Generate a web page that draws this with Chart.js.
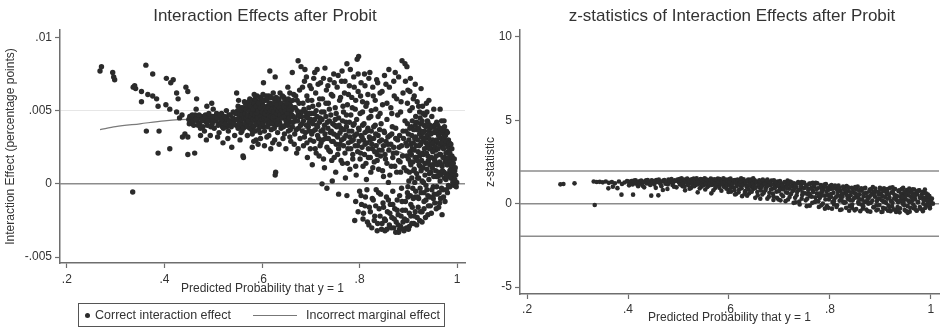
<!DOCTYPE html>
<html>
<head>
<meta charset="utf-8">
<script src="https://cdn.jsdelivr.net/npm/chart.js@4.4.1/dist/chart.umd.min.js"></script>
<style>
  body { margin: 0; background: #fff; width: 943px; height: 330px; position: relative; overflow: hidden;
         font-family: "Liberation Sans", Arial, sans-serif; color: #333; }
  #left { position: absolute; left: 0; top: 0; }
  #right { position: absolute; left: 470px; top: 0; }
  .legend { position: absolute; left: 78px; top: 303px; width: 367px; height: 24px; box-sizing: border-box;
            border: 1.5px solid #555; font-size: 12.5px; }
  .legend .dot { position: absolute; left: 6px; top: 9px; width: 5px; height: 5px; border-radius: 50%; background: #2b2b2b; }
  .legend .t1 { position: absolute; left: 16px; top: 4px; }
  .legend .ln { position: absolute; left: 174px; top: 11px; width: 44px; border-top: 1.2px solid #777; }
  .legend .t2 { position: absolute; left: 227px; top: 4px; }
</style>
</head>
<body>
<canvas id="left" width="470" height="330"></canvas>
<canvas id="right" width="473" height="330"></canvas>
<div class="legend">
  <span class="dot"></span><span class="t1">Correct interaction effect</span>
  <span class="ln"></span><span class="t2">Incorrect marginal effect</span>
</div>
<script>
const xTicks = [0.2, 0.4, 0.6, 0.8, 1];
const leftYTicks = [-0.005, 0, 0.005, 0.01];
const rightYTicks = [-5, 0, 5, 10];
const zRefLines = [-1.96, 0, 1.96];

// correct interaction effect (predicted prob, effect)
const correctEffect = [
  [.268,.0077],[.271,.0080],[.294,.0076],[.298,.0071],[.296,.0073],[.336,.0066],[.341,.0065],[.339,.0067],[.353,.0063],[.362,.0081],
  [.366,.0061],[.376,.0075],[.376,.0060],[.384,.0058],[.353,.0056],[.387,.0053],[.403,.0054],[.404,.0072],[.418,.0071],[.413,.0069],
  [.411,.0051],[.425,.0062],[.425,.0049],[.428,.0058],[.363,.0036],[.389,.0036],[.387,.0021],[.411,.0024],[.335,-.00055],[.437,.0032],
  [.442,.0034],[.431,.0045],[.436,.0047],
  [.444,.0066],[.448,.0063],[.448,.0032],[.448,.0020],[.450,.0044],[.452,.0046],[.455,.0042],[.458,.0045],[.460,.0040],[.462,.0021],
  [.463,.0047],[.465,.0051],[.466,.0058],[.467,.0043],[.470,.0045],[.472,.0041],[.474,.0038],[.476,.0046],[.478,.0043],[.480,.0044],
  [.482,.0036],[.484,.0047],[.486,.0042],[.487,.0053],[.488,.0040],[.490,.0045],[.492,.0043],[.494,.0033],[.496,.0046],[.497,.0055],
  [.498,.0041],[.500,.0051],[.500,.0044],
  [.451,.0041],[.457,.0047],[.459,.0043],[.464,.0044],[.469,.0040],[.471,.0047],[.477,.0044],[.479,.0039],[.483,.0045],[.489,.0043],
  [.491,.0048],[.495,.0039],[.499,.0046],[.503,.0043],[.507,.0048],[.511,.0045],[.513,.0041],[.517,.0048],[.519,.0039],[.522,.0043],
  [.526,.0045],[.528,.0039],[.532,.0047],[.534,.0040],[.539,.0042],[.541,.0049],[.545,.0044],[.547,.0040],[.550,.0050],[.554,.0045],
  [.557,.0039],[.474,.0033],[.509,.0032],[.486,.0030],[.530,.0031],
  [.502,.0038],[.504,.0046],[.506,.0043],[.508,.0045],[.510,.0040],[.512,.0035],[.514,.0047],[.516,.0042],[.518,.0044],[.520,.0028],
  [.521,.0038],[.523,.0046],[.525,.0041],[.527,.0050],[.529,.0044],[.531,.0036],[.533,.0043],[.535,.0047],[.537,.0039],[.538,.0025],
  [.540,.0045],[.542,.0041],[.544,.0033],[.546,.0048],[.548,.0062],[.549,.0044],[.551,.0038],[.552,.0057],[.553,.0046],[.555,.0030],
  [.556,.0042],[.558,.0052],[.559,.0036],[.561,.0019],[.562,.0018],
  [.563,.0049],[.565,.0044],[.566,.0055],[.568,.0040],[.569,.0047],[.570,.0033],[.572,.0051],[.573,.0045],[.575,.0058],[.576,.0042],
  [.578,.0049],[.579,.0037],[.580,.0025],[.581,.0054],[.583,.0046],[.584,.0061],[.586,.0043],[.587,.0050],[.588,.0030],[.590,.0047],
  [.591,.0056],[.592,.0040],[.594,.0052],[.595,.0045],[.596,.0035],[.598,.0049],[.599,.0058],[.600,.0043],[.601,.0054],[.603,.0069],
  [.603,.0047],[.604,.0039],[.606,.0051],[.607,.0044],[.608,.0057],[.609,.0048],[.610,.0032],[.611,.0053],[.612,.0046],[.613,.0041],
  [.614,.0060],[.615,.0049],[.616,.0077],[.617,.0044],[.618,.0055],[.619,.0037],[.620,.0050],[.621,.0047],[.622,.0028],[.623,.0053],
  [.624,.0043],[.625,.0058],[.626,.0049],[.627,.0073],[.627,.0006],[.628,.0008],[.628,.0040],[.630,.0052],[.631,.0046],[.632,.0035],
  [.633,.0056],[.634,.0049],[.636,.0042],[.637,.0062],[.638,.0051],[.639,.0038],[.640,.0047],[.642,.0054],[.643,.0031],[.644,.0045],
  [.645,.0059],[.647,.0050],[.648,.0040],[.649,.0024],[.650,.0053],[.651,.0045],[.653,.0066],[.654,.0036],[.655,.0048],[.657,.0042],
  [.658,.0056],[.659,.0029],[.660,.0050],[.662,.0076],[.662,.0039],[.664,.0046],[.665,.0061],[.667,.0034],[.668,.0052],[.670,.0043],
  [.671,.0021],[.672,.0057],[.674,.0084],[.674,.0047],[.675,.0038],[.677,.0064],[.678,.0031],[.680,.0080],[.680,.0049],
  [.551,.0053],[.553,.0041],[.555,.0048],[.557,.0035],[.558,.0044],[.559,.0050],[.560,.0040],[.560,.0047],
  [.561,.0052],[.562,.0038],[.563,.0045],[.564,.0056],[.565,.0048],[.566,.0041],[.567,.0051],[.568,.0045],[.569,.0054],[.570,.0039],
  [.571,.0047],[.572,.0043],[.573,.0056],[.574,.0050],[.575,.0038],[.576,.0053],[.577,.0046],[.578,.0041],[.579,.0057],[.580,.0048],
  [.580,.0034],[.581,.0044],[.582,.0051],[.583,.0039],[.584,.0055],[.585,.0047],[.586,.0058],[.586,.0036],[.587,.0044],[.588,.0053],
  [.589,.0048],[.589,.0041],[.590,.0060],[.591,.0045],[.592,.0050],[.593,.0037],[.593,.0055],[.594,.0048],[.595,.0042],[.596,.0059],
  [.597,.0046],[.597,.0052],[.598,.0039],[.599,.0044],[.600,.0056],[.601,.0049],[.602,.0041],[.602,.0061],[.603,.0053],[.604,.0045],
  [.605,.0057],[.605,.0036],[.606,.0048],[.607,.0052],[.608,.0043],[.609,.0060],[.610,.0050],[.611,.0044],[.611,.0058],[.612,.0039],
  [.613,.0052],[.614,.0047],[.615,.0055],[.616,.0042],[.617,.0050],[.618,.0046],[.619,.0059],[.620,.0041],[.620,.0054],[.621,.0051],
  [.622,.0045],[.623,.0062],[.624,.0049],[.625,.0038],[.626,.0055],[.627,.0046],[.628,.0052],[.629,.0043],[.629,.0059],[.630,.0048],
  [.631,.0054],[.632,.0041],[.633,.0050],[.634,.0044],[.635,.0058],[.636,.0052],[.637,.0047],[.638,.0040],[.639,.0055],[.640,.0050],
  [.641,.0045],[.642,.0060],[.643,.0049],[.644,.0039],[.645,.0053],[.646,.0046],[.647,.0057],[.648,.0050],[.649,.0043],[.651,.0055],
  [.652,.0048],[.653,.0040],[.654,.0058],[.655,.0051],[.656,.0045],[.657,.0062],[.658,.0037],[.659,.0053],[.661,.0047],[.663,.0057],
  [.664,.0042],[.666,.0052],[.667,.0045],[.669,.0060],[.670,.0037],[.672,.0050],[.673,.0043],[.676,.0055],[.677,.0046],[.679,.0040],
  [.583,.0029],[.597,.0031],[.605,.0026],[.614,.0033],[.626,.0030],[.635,.0027],[.646,.0034],[.657,.0032],[.666,.0027],[.674,.0024],
  [.592,.0027],[.618,.0024],
  [.682,.0041],[.684,.0055],[.685,.0026],[.687,.0070],[.688,.0078],[.689,.0035],[.690,.0046],[.692,.0060],[.693,.0018],[.695,.0039],
  [.696,.0052],[.698,.0067],[.699,.0030],[.700,.0044],[.702,.0057],[.703,.0013],[.705,.0036],[.706,.0072],[.707,.0048],[.709,.0024],
  [.710,.0062],[.712,.0040],[.713,.0078],[.714,.0033],[.716,.0054],[.717,.0019],[.719,.0045],[.720,.0069],[.721,.0028],[.723,.0000],
  [.724,.0058],[.725,.0037],[.727,.0049],[.728,.0011],[.729,.0079],[.730,.0031],[.732,.0064],[.733,-.0003],[.734,.0042],[.736,.0055],
  [.737,.0023],[.739,.0071],[.740,.0035],[.741,.0047],[.743,.0016],[.744,.0002],[.745,.0060],[.746,.0029],[.747,.0075],[.749,.0040],
  [.750,.0052],[.751,.0008],[.753,.0033],[.754,.0066],[.755,.0020],[.757,-.0007],[.757,.0045],[.759,.0057],[.760,.0027],[.762,.0038],
  [.763,.0070],[.764,.0077],[.765,.0014],[.767,.0049],[.768,.0031],[.769,.0062],[.771,.0004],[.772,.0042],[.774,-.0008],[.774,.0082],
  [.775,.0054],[.776,.0024],[.778,.0036],[.779,.0067],[.780,.0010],[.782,.0047],[.783,.0029],[.784,.0059],[.786,.0017],[.787,.0040],
  [.788,.0073],[.790,-.0025],[.790,.0033],[.791,.0051],[.793,.0006],[.794,.0044],[.795,.0085],[.796,.0026],[.797,.0063],[.798,.0087],
  [.799,.0037],
  [.681,.0046],[.683,.0036],[.685,.0043],[.687,.0032],[.689,.0049],[.691,.0040],[.692,.0028],[.694,.0045],[.696,.0036],[.697,.0042],
  [.699,.0024],[.701,.0048],[.702,.0034],[.704,.0041],[.706,.0029],[.708,.0044],[.709,.0037],[.711,.0021],[.713,.0046],[.714,.0039],
  [.716,.0031],[.718,.0042],[.719,.0026],[.721,.0036],[.723,.0044],[.724,.0030],[.726,.0017],[.728,.0040],[.729,.0034],[.731,.0046],
  [.733,.0025],[.735,.0038],[.736,.0031],[.738,.0043],[.740,.0022],[.742,.0036],[.743,.0029],[.745,.0041],[.747,.0034],[.748,.0018],
  [.750,.0044],[.752,.0027],[.753,.0039],[.755,.0032],[.757,.0024],[.758,.0040],[.760,.0035],[.762,.0016],[.763,.0030],[.765,.0043],
  [.767,.0026],[.768,.0037],[.770,.0021],[.772,.0033],[.773,.0039],[.775,.0014],[.777,.0028],[.779,.0042],[.780,.0032],[.782,.0024],
  [.784,.0036],[.786,.0020],[.787,.0030],[.789,.0041],[.791,.0026],[.792,.0012],[.794,.0034],[.796,.0022],[.798,.0038],[.799,.0029],
  [.801,.0017],[.803,.0033],[.805,.0025],[.806,.0040],[.808,.0030],[.810,.0020],[.811,.0035],[.813,.0014],[.815,.0028],[.817,.0038],
  [.818,.0024],[.820,.0032],[.822,.0018],[.824,.0036],[.825,.0027],[.827,.0011],[.829,.0031],[.831,.0022],[.832,.0040],[.834,.0026],
  [.836,.0016],[.838,.0033],[.840,.0023],[.841,.0037],[.843,.0019],[.845,.0030],[.847,.0009],[.849,.0026],[.851,.0035],[.852,.0020],
  [.854,.0029],[.856,.0014],[.858,.0032],[.860,.0023],[.862,.0006],[.864,.0027],[.866,.0034],[.868,.0018],[.870,.0025],[.872,.0012],
  [.874,.0038],[.876,.0021],[.878,.0030],[.880,.0016],[.882,.0033],[.884,.0008],[.886,.0026],[.888,.0019],[.890,.0031],
  [.683,.0066],[.686,.0051],[.691,.0073],[.694,.0057],[.697,.0048],[.701,.0065],[.704,.0053],[.708,.0076],[.711,.0050],[.715,.0068],
  [.718,.0058],[.722,.0049],[.726,.0072],[.731,.0055],[.735,.0067],[.738,.0051],[.742,.0061],[.748,.0069],[.752,.0048],[.756,.0074],
  [.761,.0059],[.766,.0053],[.770,.0070],[.773,.0047],[.777,.0061],[.781,.0078],[.785,.0052],[.789,.0066],[.792,.0057],[.797,.0075],
  [.802,.0060],[.806,.0049],[.811,.0067],[.815,.0055],[.819,.0072],[.823,.0046],[.828,.0060],[.833,.0051],[.837,.0069],[.842,.0048],
  [.846,.0063],[.851,.0074],[.856,.0055],[.861,.0066],[.866,.0048],[.870,.0070],[.876,.0058],[.880,.0073],[.884,.0049],[.889,.0062],
  [.894,.0070],[.898,.0055],[.903,.0063],[.908,.0052],[.912,.0060],[.918,.0056],[.923,.0049],[.929,.0053],[.934,.0047],[.938,.0049],
  [.800,-.0005],[.801,.0048],[.802,.0021],[.803,.0069],[.804,-.0014],[.805,.0032],[.806,.0056],[.807,.0012],[.808,-.0020],[.809,.0041],
  [.810,.0075],[.811,.0027],[.812,-.0009],[.813,.0053],[.814,.0003],[.815,.0036],[.816,-.0026],[.817,.0061],[.818,.0018],[.819,.0045],
  [.820,-.0016],[.821,.0076],[.822,.0030],[.823,.0008],[.824,.0050],[.825,-.0030],[.826,.0024],[.827,.0066],[.828,-.0011],[.829,.0039],
  [.830,.0015],[.831,-.0022],[.832,.0057],[.833,.0034],[.834,-.0004],[.835,.0071],[.836,.0020],[.837,-.0027],[.838,.0046],[.839,.0010],
  [.840,-.0017],[.841,.0029],[.842,.0062],[.843,-.0007],[.844,.0041],[.845,-.0031],[.846,.0023],[.847,.0054],[.848,-.0013],[.849,.0005],
  [.850,.0036],[.851,-.0024],[.852,-.0032],[.853,.0017],[.854,.0068],[.855,-.0009],[.856,.0044],[.857,-.0019],[.858,.0027],[.859,.0001],
  [.860,.0078],[.861,-.0028],[.862,.0033],[.863,-.0014],[.864,.0052],[.865,.0012],[.866,-.0023],[.867,.0039],[.868,-.0005],[.869,.0021],
  [.870,-.0030],[.871,.0060],[.872,-.0017],[.873,.0076],[.874,.0031],[.875,-.0026],[.876,.0008],[.877,-.0011],[.878,.0047],[.879,-.0021],
  [.880,-.0033],[.881,.0025],[.882,-.0008],[.883,.0015],[.884,-.0029],[.885,.0056],[.886,-.0003],[.887,.0084],[.888,-.0018],[.889,.0036],
  [.792,-.0012],[.797,-.0019],[.803,-.0008],[.807,-.0024],[.811,-.0015],[.815,-.0004],[.819,-.0028],[.822,-.0019],[.826,-.0010],[.830,-.0025],
  [.833,-.0015],[.836,-.0032],[.839,-.0006],[.842,-.0022],[.846,-.0027],[.849,-.0016],[.853,-.0025],[.856,-.0031],[.859,-.0011],[.862,-.0020],
  [.865,-.0030],[.868,-.0014],[.871,-.0024],[.874,-.0033],[.877,-.0018],[.879,-.0028],[.882,-.0031],[.885,-.0022],[.887,-.0012],[.889,-.0026],
  [.891,-.0032],[.894,-.0018],[.897,-.0025],[.899,-.0009],[.902,-.0029],[.905,-.0022],[.908,-.0016],[.911,-.0027],[.914,-.0019],[.918,-.0023],
  [.921,-.0010],[.925,-.0019],[.928,-.0026],[.932,-.0017],[.936,-.0011],[.940,-.0021],[.945,-.0015],[.951,-.0010],[.957,-.0017],[.964,-.0013],
  [.890,-.0031],[.891,.0011],[.892,-.0024],[.893,.0082],[.893,.0043],[.894,-.0012],[.895,.0028],[.896,-.0030],[.897,.0080],[.897,.0019],
  [.898,-.0006],[.899,.0064],[.900,-.0031],[.900,.0034],[.901,.0002],[.902,-.0020],[.903,.0050],[.904,.0072],[.904,.0015],[.905,-.0014],
  [.906,.0039],[.907,-.0027],[.908,.0024],[.909,-.0003],[.910,.0058],[.911,.0009],[.912,-.0022],[.913,.0031],[.914,.0068],[.914,-.0009],
  [.915,.0046],[.916,.0018],[.917,-.0028],[.918,.0037],[.919,.0004],[.920,-.0016],[.921,.0053],[.922,.0026],[.923,-.0025],[.924,.0012],
  [.925,.0041],[.926,.0065],[.926,-.0006],[.927,.0032],[.928,-.0019],[.929,.0021],[.930,.0048],[.931,.0001],[.932,-.0012],[.933,.0036],
  [.934,.0014],[.935,-.0023],[.936,.0028],[.937,.0055],[.938,-.0004],[.939,.0043],[.940,.0019],[.941,-.0015],[.942,.0057],[.942,.0031],
  [.943,.0007],[.944,-.0009],[.945,.0038],[.946,.0024],[.947,-.0020],[.948,.0046],[.949,.0011],[.950,.0030],[.951,-.0002],[.952,.0051],
  [.953,.0017],[.954,-.0013],[.955,.0035],[.956,.0023],[.957,.0005],[.958,.0042],[.959,-.0007],[.960,.0028],[.961,.0014],[.962,-.0016],
  [.963,.0036],[.964,.0020],[.965,.0051],[.965,.0002],[.966,-.0010],[.967,.0031],[.968,.0043],[.969,-.0021],[.969,.0012],[.970,.0025],
  [.971,-.0004],[.972,.0034],[.973,.0043],[.973,.0008],[.974,.0018],[.975,-.0012],[.976,.0027],[.977,.0003],[.978,.0036],[.979,.0013],
  [.980,-.0006],[.981,.0022],[.982,.0030],[.983,.0007],[.984,.0016],[.985,-.0002],[.986,.0024],[.987,.0010],[.988,.0004],[.989,.0019],
  [.990,.0012],[.992,.0006],[.993,-.0001],[.995,.0009],[.996,.0000],[.999,.0001],
  [.895,.0036],[.896,.0009],[.897,.0026],[.898,.0041],[.899,-.0002],[.900,.0017],[.901,.0030],[.902,.0008],[.903,.0022],[.903,.0038],
  [.904,-.0008],[.905,.0013],[.905,.0027],[.906,.0020],[.907,.0033],[.907,.0004],[.908,.0043],[.909,.0015],[.910,.0028],[.910,-.0010],
  [.911,.0037],[.912,.0010],[.912,.0023],[.913,.0001],[.914,.0040],[.914,.0018],[.915,.0032],[.915,-.0005],[.916,.0026],[.917,.0007],
  [.917,.0042],[.918,.0016],[.919,.0030],[.919,-.0009],[.920,.0022],[.921,.0038],[.921,.0004],[.922,.0013],[.923,.0034],[.923,.0019],
  [.924,-.0003],[.924,.0045],[.925,.0027],[.926,.0009],[.926,.0036],[.927,.0016],[.928,.0043],[.928,.0002],[.929,.0029],[.930,.0011],
  [.930,.0035],[.931,.0020],[.932,-.0006],[.932,.0040],[.933,.0024],[.934,.0006],[.934,.0031],[.935,.0014],[.936,.0039],[.936,-.0001],
  [.937,.0021],[.938,.0033],[.938,.0010],[.939,.0026],[.940,.0042],[.940,-.0008],[.941,.0016],[.942,.0036],[.942,.0003],[.943,.0024],
  [.944,.0013],[.944,.0040],[.945,.0028],[.946,.0008],[.946,.0034],[.947,.0018],[.948,-.0004],[.948,.0027],[.949,.0039],[.950,.0013],
  [.950,.0022],[.951,.0035],[.952,.0005],[.952,.0028],[.953,-.0007],[.954,.0040],[.954,.0016],[.955,.0025],[.956,.0009],[.956,.0037],
  [.957,.0019],[.958,-.0002],[.958,.0030],[.959,.0013],[.960,.0040],[.960,.0005],[.961,.0024],[.962,.0033],[.962,.0008],[.963,-.0006],
  [.964,.0027],[.964,.0015],[.965,.0038],[.966,.0020],[.966,.0006],[.967,.0035],[.968,.0013],[.968,-.0003],[.969,.0028],[.970,.0037],
  [.970,.0009],[.971,.0018],[.972,.0024],[.972,-.0009],[.973,.0031],[.974,.0004],[.974,.0039],[.975,.0015],[.976,.0033],[.976,.0007],
  [.977,.0021],[.978,-.0004],[.978,.0029],[.979,.0016],[.980,.0035],[.980,.0005],[.981,.0013],[.982,.0025],[.982,-.0001],[.983,.0018],
  [.984,.0028],[.985,.0009],[.985,.0021],[.986,.0015],[.987,.0027],[.987,.0004],[.988,.0013],[.989,.0024],[.990,.0007],[.990,.0018],
  [.991,.0001],[.992,.0014],[.993,.0009],[.994,.0017],[.995,.0003],[.996,.0011],[.997,.0006],[.998,-.0002]
];

// incorrect marginal effect curve
const marginalX = [.268, .30, .35, .40, .45, .50, .55, .60, .65, .70, .75, .80, .85, .88, .92, .95, .98, .995];
const marginalY = [.0037, .0039, .0041, .0043, .0044, .0044, .0044, .0042, .0040, .0037, .0034, .0030, .0026, .0022, .0016, .0011, .0005, .0002];

// z-statistics (predicted prob, z)
const zStat = [
  [.266,1.16],[.272,1.18],[.294,1.22],[.334,-.08],[.332,1.33],[.338,1.30],[.344,1.31],[.350,1.28],[.356,1.33],[.361,0.92],
  [.362,1.25],[.368,1.30],[.370,1.02],[.374,1.22],[.379,0.93],[.382,1.33],[.387,0.54],[.388,1.18],[.393,1.27],[.398,1.35],
  [.402,1.10],[.405,1.30],[.410,0.54],[.412,1.38],[.416,1.20],[.420,1.05],[.424,1.34],[.428,1.28],[.432,0.98],[.436,1.40],
  [.440,1.22],[.446,0.48],[.448,1.35],[.452,1.15],[.456,1.42],[.460,0.50],[.462,1.28],[.466,1.05],[.470,1.38],[.474,1.20],
  [.478,0.88],[.480,1.45],[.484,1.30],[.488,1.12],[.492,1.40],[.496,0.98],[.500,1.33],
  [.401,1.32],[.404,1.24],[.407,1.36],[.409,1.15],[.413,1.30],[.415,1.40],[.418,1.27],[.421,1.33],[.423,1.19],[.426,1.38],
  [.429,1.08],[.431,1.30],[.434,1.35],[.437,1.22],[.439,1.42],[.442,1.30],[.444,1.12],[.447,1.40],[.449,1.26],[.453,1.35],
  [.455,0.95],[.458,1.30],[.461,1.44],[.464,1.20],[.467,1.33],[.469,0.82],[.472,1.42],[.476,1.28],[.479,1.15],[.482,1.38],
  [.486,1.47],[.489,1.25],[.491,1.02],[.494,1.36],[.498,1.45],
  [.502,1.47],[.505,1.22],[.508,1.05],[.510,1.38],[.513,0.80],[.515,1.30],[.518,1.48],[.520,1.15],[.523,1.40],[.525,0.95],
  [.528,1.27],[.530,1.50],[.533,1.10],[.535,1.35],[.538,0.68],[.540,1.20],[.543,1.45],[.545,1.02],[.548,1.32],[.550,1.48],
  [.553,0.85],[.555,1.25],[.558,1.40],[.560,1.08],[.563,1.30],[.565,0.62],[.568,1.45],[.570,1.18],[.573,0.95],[.575,1.36],
  [.578,1.50],[.580,1.12],[.583,1.28],[.585,0.78],[.588,1.42],[.590,1.05],[.593,1.33],[.595,0.90],[.598,1.20],[.600,1.46],
  [.501,1.28],[.503,1.15],[.504,1.40],[.506,1.52],[.507,1.32],[.509,1.20],[.511,1.45],[.512,1.02],[.514,1.36],[.516,1.25],
  [.517,1.50],[.519,1.12],[.521,1.38],[.522,0.90],[.524,1.30],[.526,1.46],[.527,1.18],[.529,1.35],[.531,1.05],[.532,1.42],
  [.534,1.25],[.536,1.52],[.537,1.15],[.539,1.38],[.541,1.30],[.542,0.92],[.544,1.48],[.546,1.22],[.547,1.40],[.549,1.10],
  [.551,1.35],[.552,1.52],[.554,1.18],[.556,1.45],[.557,1.00],[.559,1.30],[.561,1.42],[.562,1.20],[.564,1.50],[.566,1.12],
  [.567,1.35],[.569,0.80],[.571,1.28],[.572,1.46],[.574,1.05],[.576,1.40],[.577,1.22],[.579,1.33],[.581,0.95],[.582,1.48],
  [.584,1.15],[.586,1.38],[.587,1.25],[.589,1.52],[.591,1.00],[.592,1.30],[.594,1.45],[.596,1.10],[.597,1.36],[.599,0.70],
  [.602,1.10],[.604,0.72],[.606,1.35],[.608,1.25],[.610,0.95],[.612,1.42],[.614,0.58],[.616,1.15],[.618,1.30],[.620,0.85],
  [.622,1.40],[.624,1.05],[.626,0.45],[.628,1.22],[.630,1.36],[.632,0.75],[.634,1.12],[.636,0.98],[.638,1.44],[.640,0.62],
  [.642,1.28],[.644,1.02],[.646,1.38],[.648,0.88],[.650,1.18],[.652,0.35],[.654,1.32],[.656,0.70],[.658,1.08],[.660,1.40],
  [.662,0.92],[.664,1.24],[.666,0.55],[.668,1.15],[.670,1.35],[.672,0.80],[.674,1.00],[.676,0.30],[.678,1.28],[.680,0.65],
  [.682,1.12],[.684,1.38],[.686,0.90],[.688,0.45],[.690,1.20],[.692,1.05],[.694,0.72],[.696,1.32],[.698,0.25],[.700,0.98],
  [.601,1.30],[.603,1.50],[.605,0.98],[.607,1.18],[.609,1.40],[.611,0.80],[.613,1.28],[.615,1.05],[.617,1.45],[.619,0.68],
  [.621,1.20],[.623,1.35],[.625,0.92],[.627,1.12],[.629,1.46],[.631,0.60],[.633,1.25],[.635,1.02],[.637,1.38],[.639,0.85],
  [.641,1.15],[.643,1.45],[.645,0.72],[.647,1.22],[.649,1.05],[.651,1.40],[.653,0.95],[.655,1.28],[.657,0.50],[.659,1.15],
  [.661,1.35],[.663,0.80],[.665,1.02],[.667,1.44],[.669,0.65],[.671,1.20],[.673,0.92],[.675,1.38],[.677,1.08],[.679,0.42],
  [.681,1.30],[.683,0.85],[.685,1.15],[.687,0.60],[.689,1.40],[.691,0.95],[.693,1.25],[.695,0.35],[.697,1.10],[.699,0.75],
  [.701,1.35],[.703,0.88],[.705,1.18],[.707,0.45],[.709,1.02],[.711,1.28],[.713,0.68],[.715,1.12],[.717,0.25],[.719,0.90],
  [.721,1.32],[.723,0.58],[.725,1.05],[.727,0.80],[.729,1.22],[.731,0.35],[.733,0.98],[.735,0.70],[.737,1.30],[.739,0.12],
  [.741,0.85],[.743,1.15],[.745,0.52],[.747,0.95],[.749,1.25],[.601,0.85],[.612,0.55],[.624,1.52],[.636,0.48],[.648,1.52],
  [.662,0.30],[.676,1.45],[.688,0.22],[.702,0.20],[.716,1.38],[.732,0.08],[.744,1.30],
  [.702,1.25],[.704,0.55],[.706,1.10],[.708,0.85],[.710,1.30],[.712,0.15],[.714,0.95],[.716,0.65],[.718,1.18],[.720,0.40],
  [.722,1.02],[.724,1.28],[.726,0.75],[.728,0.05],[.730,0.90],[.732,1.15],[.734,0.50],[.736,1.22],[.738,0.82],[.740,-0.05],
  [.742,1.05],[.744,0.30],[.746,0.68],[.748,1.26],[.750,0.95],[.752,0.20],[.754,1.10],[.756,0.58],[.758,0.88],[.760,-0.12],
  [.762,1.20],[.764,0.42],[.766,0.78],[.768,1.02],[.770,0.10],[.772,1.25],[.774,0.62],[.776,0.92],[.778,-0.20],[.780,0.35],
  [.782,1.12],[.784,0.70],[.786,0.00],[.788,0.98],[.790,0.48],[.792,1.18],[.794,-0.15],[.796,0.80],[.798,0.25],[.800,1.05],
  [.751,0.62],[.753,1.05],[.755,0.30],[.757,0.82],[.759,1.20],[.761,0.45],[.763,0.95],[.765,0.05],[.767,0.70],[.769,1.12],
  [.771,0.38],[.773,0.88],[.775,1.22],[.777,0.15],[.779,0.60],[.781,1.00],[.783,-0.10],[.785,0.50],[.787,0.85],[.789,1.15],
  [.791,0.25],[.793,0.72],[.795,0.95],[.797,-0.25],[.799,0.40],[.801,0.88],[.803,1.12],[.805,0.10],[.807,0.65],[.809,0.30],
  [.811,0.98],[.813,-0.20],[.815,0.52],[.817,1.08],[.819,0.18],[.821,0.78],[.823,-0.35],[.825,0.42],[.827,0.90],[.829,0.62],
  [.831,0.08],[.833,1.05],[.835,0.30],[.837,0.75],[.839,-0.15],[.841,0.50],[.843,0.95],[.845,0.20],[.847,0.68],[.849,-0.40],
  [.851,0.38],[.853,0.85],[.855,1.02],[.857,0.00],[.859,0.55],[.861,0.25],[.863,0.78],[.865,-0.30],[.867,0.45],[.869,0.92],
  [.871,0.12],[.873,0.65],[.875,-0.45],[.877,0.35],[.879,0.85],[.881,0.05],[.883,0.58],[.885,1.00],[.887,-0.20],[.889,0.42],
  [.891,0.72],[.893,0.15],[.895,-0.35],[.897,0.55],[.899,0.95],[.754,-0.15],[.766,1.25],[.778,0.45],[.790,-0.30],[.802,0.40],
  [.814,0.85],[.826,0.12],[.838,0.30],[.850,0.60],[.862,-0.05],[.874,0.20],[.886,0.70],[.898,0.30],[.760,0.58],[.772,0.15],
  [.784,0.78],[.796,0.52],[.808,-0.05],[.820,0.45],[.832,0.65],[.844,-0.25],[.856,0.35],[.868,0.10],[.880,0.48],[.892,-0.10],
  [.802,0.58],[.804,-0.30],[.806,0.90],[.808,0.15],[.810,1.08],[.812,0.40],[.814,-0.10],[.816,0.72],[.818,0.95],[.820,-0.38],
  [.822,0.28],[.824,0.60],[.826,1.02],[.828,0.05],[.830,0.82],[.832,-0.25],[.834,0.48],[.836,0.98],[.838,-0.42],[.840,0.20],
  [.842,0.68],[.844,-0.05],[.846,0.88],[.848,0.35],[.850,1.00],[.852,-0.32],[.854,0.55],[.856,0.10],[.858,0.78],[.860,-0.45],
  [.862,0.92],[.864,0.25],[.866,-0.15],[.868,0.62],[.870,0.95],[.872,-0.35],[.874,0.40],[.876,0.00],[.878,0.75],[.880,-0.48],
  [.882,0.88],[.884,0.18],[.886,-0.22],[.888,0.52],[.890,0.90],[.892,-0.40],[.894,0.30],[.896,0.70],[.898,-0.08],[.900,0.85],
  [.902,-0.50],[.904,0.45],[.906,0.12],[.908,0.78],[.910,-0.30],[.912,0.58],[.914,0.88],[.916,-0.12],[.918,0.35],[.920,-0.45],
  [.922,0.68],[.924,0.05],[.926,0.85],[.928,-0.35],[.930,0.48],[.932,0.22],[.934,-0.20],[.936,0.75],[.938,-0.52],[.940,0.40],
  [.942,0.88],[.944,0.00],[.946,0.60],[.948,-0.38],[.950,0.28],[.952,0.82],[.954,-0.15],[.956,0.50],[.958,-0.48],[.960,0.70],
  [.962,0.15],[.964,0.86],[.966,-0.28],[.968,0.42],[.970,0.62],[.972,-0.42],[.974,0.08],[.976,0.78],[.978,-0.20],[.980,0.35],
  [.982,0.55],[.984,-0.35],[.986,0.20],[.988,0.65],[.990,-0.10],[.992,0.40],[.994,0.05],[.996,0.30],[.998,-0.18],[1.000,0.15],
  [.901,0.60],[.903,0.20],[.905,-0.25],[.907,0.92],[.909,0.40],[.911,0.05],[.913,0.72],[.915,-0.42],[.917,0.55],[.919,0.95],
  [.921,0.15],[.923,-0.15],[.925,0.65],[.927,0.30],[.929,0.88],[.931,-0.50],[.933,0.45],[.935,0.08],[.937,0.80],[.939,-0.28],
  [.941,0.60],[.943,0.25],[.945,0.95],[.947,-0.10],[.949,0.50],[.951,-0.45],[.953,0.70],[.955,0.18],[.957,0.90],[.959,-0.25],
  [.961,0.40],[.963,0.62],[.965,-0.05],[.967,0.85],[.969,0.25],[.971,-0.40],[.973,0.55],[.975,0.10],[.977,0.80],[.979,-0.30],
  [.981,0.45],[.983,0.70],[.985,0.00],[.987,0.35],[.989,-0.25],[.991,0.60],[.993,0.20],[.995,-0.12],[.997,0.45],[.999,0.05],
  [.904,-0.48],[.914,0.30],[.924,0.98],[.934,-0.32],[.944,0.40],[.954,-0.55],[.964,0.30],[.974,0.75],[.984,-0.45],[.994,0.55],
  [.908,0.12],[.918,-0.20],[.928,0.52],[.938,0.15],[.948,0.72],[.958,0.08],[.968,-0.18],[.978,0.35],[.988,0.85],[.998,-0.28],
  [.906,0.75],[.926,-0.35],[.946,0.10],[.966,0.50],[.986,0.18],[1.002,0.30],[1.004,0.00]
];

const FONT = '"Liberation Sans", Arial, sans-serif';
const TEXT = '#333';
const AXIS = '#6e6e6e';
const X_MIN = 0.186, X_MAX = 1.016;

function fmtTick(v) {
  if (v === 0) return '0';
  return String(v).replace('0.', '.');
}

const panelTitle = {
  id: 'panelTitle',
  afterDraw(chart, args, opts) {
    const ctx = chart.ctx;
    ctx.save();
    ctx.font = '17px ' + FONT;
    ctx.fillStyle = TEXT;
    ctx.textAlign = 'center';
    ctx.textBaseline = 'middle';
    ctx.fillText(opts.text, opts.x, opts.y);
    ctx.restore();
  }
};

function xScale(height, tickPad, titlePad) {
  return {
    type: 'linear', min: X_MIN, max: X_MAX,
    afterBuildTicks: (s) => { s.ticks = xTicks.map(v => ({ value: v })); },
    afterFit: (s) => { s.height = height; },
    border: { display: true, color: AXIS, width: 1.5 },
    grid: { drawOnChartArea: false, drawTicks: true, tickLength: 5, tickColor: AXIS, tickWidth: 1.2 },
    ticks: { color: TEXT, font: { family: FONT, size: 12 }, padding: tickPad, maxRotation: 0, callback: fmtTick },
    title: { display: true, text: 'Predicted Probability that y = 1', color: TEXT,
             font: { family: FONT, size: 12 }, padding: { top: 0, bottom: titlePad } }
  };
}

function yScale(min, max, ticks, title, width, titlePad, gridAt) {
  return {
    type: 'linear', min: min, max: max,
    afterBuildTicks: (s) => { s.ticks = ticks.map(v => ({ value: v })); },
    afterFit: (s) => { s.width = width; },
    border: { display: true, color: AXIS, width: 1.5 },
    grid: {
      drawOnChartArea: true, drawTicks: true, tickLength: 5, tickColor: AXIS, tickWidth: 1.2,
      color: (c) => (c.tick && c.tick.value === gridAt) ? '#e6e6e6' : 'rgba(0,0,0,0)'
    },
    ticks: { color: TEXT, font: { family: FONT, size: 12 }, padding: 3, callback: fmtTick },
    title: { display: true, text: title, color: TEXT, font: { family: FONT, size: 12 }, padding: { top: titlePad, bottom: 0 } }
  };
}

const common = {
  responsive: false, animation: false, devicePixelRatio: 1,
  plugins: { legend: { display: false }, tooltip: { enabled: false } }
};

new Chart(document.getElementById('left'), {
  type: 'scatter',
  data: {
    datasets: [
      { type: 'line', data: marginalX.map((x, i) => ({ x: x, y: marginalY[i] })), borderColor: '#7a7a7a',
        borderWidth: 1.2, pointRadius: 0, cubicInterpolationMode: 'monotone', fill: false, order: 2 },
      { type: 'line', data: [{ x: X_MIN, y: 0 }, { x: X_MAX, y: 0 }], borderColor: '#8c8c8c',
        borderWidth: 1.5, pointRadius: 0, order: 3 },
      { data: correctEffect.map(p => ({ x: p[0], y: p[1] })), backgroundColor: '#2b2b2b',
        borderWidth: 0, pointRadius: 2.7, order: 1 }
    ]
  },
  options: Object.assign({}, common, {
    layout: { padding: { top: 30, right: 5, left: 0, bottom: 0 } },
    scales: {
      x: xScale(67, 4, 34),
      y: yScale(-0.0054, 0.0105, leftYTicks, 'Interaction Effect (percentage points)', 60, 3, 0.005)
    },
    plugins: Object.assign({}, common.plugins, {
      panelTitle: { text: 'Interaction Effects after Probit', x: 265, y: 16 }
    })
  }),
  plugins: [panelTitle]
});

new Chart(document.getElementById('right'), {
  type: 'scatter',
  data: {
    datasets: zRefLines.map(v => ({
      type: 'line', data: [{ x: X_MIN, y: v }, { x: X_MAX, y: v }], borderColor: '#8c8c8c',
      borderWidth: 1.5, pointRadius: 0, order: 2
    })).concat([
      { data: zStat.map(p => ({ x: p[0], y: p[1] })), backgroundColor: '#2b2b2b',
        borderWidth: 0, pointRadius: 2.3, order: 1 }
    ])
  },
  options: Object.assign({}, common, {
    layout: { padding: { top: 30, right: 0, left: 0, bottom: 0 } },
    scales: {
      x: xScale(36, 3, 5),
      y: yScale(-5.42, 10.42, rightYTicks, 'z-statistic', 50, 13, null)
    },
    plugins: Object.assign({}, common.plugins, {
      panelTitle: { text: 'z-statistics of Interaction Effects after Probit', x: 262, y: 16 }
    })
  }),
  plugins: [panelTitle]
});
</script>
</body>
</html>
